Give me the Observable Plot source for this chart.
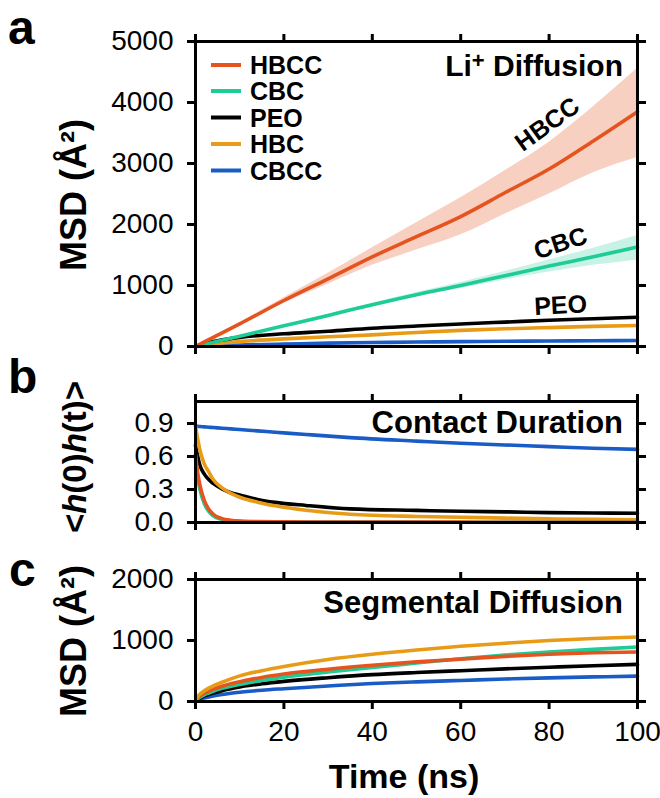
<!DOCTYPE html>
<html><head><meta charset="utf-8">
<script src="https://cdn.jsdelivr.net/npm/d3@7"></script>
<script src="https://cdn.jsdelivr.net/npm/@observablehq/plot@0.6"></script>
<style>
html,body{margin:0;padding:0;background:#fff;}
#wrap{position:relative;width:660px;height:798px;overflow:hidden;background:#fff;}
</style></head><body><div id="wrap"></div>
<script>
const FONT = '"Liberation Sans", Arial, Helvetica, sans-serif';
const seriesNames = ["HBCC", "CBC", "PEO", "HBC", "CBCC"];
const seriesColors = ["#E5531E", "#1ECC96", "#000000", "#E89B17", "#1A5CC6"];
const xTicks = [0, 20, 40, 60, 80, 100];

// Panel a: Li+ diffusion MSD (Å²)
const tA = [0, 2, 5, 10, 20, 30, 40, 50, 60, 70, 80, 90, 100];
const aHBCC = [0, 75, 185, 370, 754, 1110, 1470, 1800, 2130, 2520, 2910, 3370, 3850];
const aHBCCupper = [0, 78, 195, 390, 800, 1200, 1620, 2030, 2440, 2880, 3350, 3930, 4560];
const aHBCClower = [0, 72, 175, 350, 710, 1020, 1330, 1580, 1830, 2170, 2500, 2850, 3100];
const aCBC = [0, 34, 85, 170, 340, 510, 685, 850, 1000, 1160, 1320, 1470, 1630];
const aCBCupper = [0, 35, 87, 175, 350, 528, 710, 885, 1050, 1230, 1420, 1610, 1820];
const aCBClower = [0, 33, 83, 165, 330, 492, 660, 815, 950, 1090, 1220, 1330, 1420];
const aPEO = [0, 50, 95, 150, 208, 250, 300, 335, 370, 400, 430, 455, 480];
const aHBC = [0, 25, 50, 80, 125, 160, 190, 230, 265, 290, 310, 330, 345];
const aCBCC = [0, 8, 15, 25, 40, 55, 65, 73, 80, 85, 90, 94, 98];
const yTicksA = [0, 1000, 2000, 3000, 4000, 5000];

// Panel b: contact duration <h(0)h(t)>
const tB = [0, 0.5, 1, 2, 3, 4, 6, 8, 10, 14, 18, 25, 35, 50, 60, 70, 80, 90, 100];
const bHBCC = [0.62, 0.45, 0.34, 0.20, 0.12, 0.075, 0.035, 0.02, 0.013, 0.008, 0.006, 0.005, 0.004, 0.003, 0.003, 0.002, 0.002, 0.002, 0.002];
const bCBC = [0.58, 0.41, 0.30, 0.17, 0.10, 0.06, 0.028, 0.015, 0.010, 0.006, 0.005, 0.004, 0.003, 0.003, 0.002, 0.002, 0.002, 0.002, 0.002];
const bPEO = [0.70, 0.60, 0.52, 0.44, 0.39, 0.355, 0.305, 0.27, 0.25, 0.21, 0.183, 0.155, 0.124, 0.11, 0.102, 0.097, 0.09, 0.086, 0.084];
const bHBC = [0.875, 0.76, 0.66, 0.53, 0.46, 0.39, 0.315, 0.265, 0.23, 0.185, 0.152, 0.112, 0.075, 0.055, 0.048, 0.04, 0.033, 0.028, 0.024];
const bCBCC = [0.875, 0.874, 0.872, 0.869, 0.866, 0.863, 0.857, 0.851, 0.845, 0.833, 0.821, 0.80, 0.772, 0.74, 0.72, 0.705, 0.69, 0.675, 0.665];
const yTicksB = [0, 0.3, 0.6, 0.9];

// Panel c: segmental diffusion MSD (Å²)
const tC = [0, 0.5, 1, 2, 3, 4, 6, 8, 10, 15, 20, 30, 40, 50, 60, 70, 80, 90, 100];
const cHBCC = [0, 60, 90, 135, 170, 200, 250, 290, 325, 395, 450, 530, 595, 650, 695, 740, 775, 798, 812];
const cCBC = [0, 45, 70, 110, 140, 168, 215, 250, 280, 345, 400, 485, 560, 630, 700, 760, 812, 855, 893];
const cPEO = [0, 35, 55, 90, 115, 138, 178, 210, 238, 290, 330, 390, 440, 475, 505, 535, 562, 587, 608];
const cHBC = [0, 80, 120, 175, 220, 255, 315, 370, 420, 505, 575, 690, 775, 845, 905, 955, 1000, 1032, 1057];
const cCBCC = [0, 25, 38, 58, 75, 90, 115, 135, 152, 185, 210, 255, 295, 322, 345, 368, 388, 403, 416];
const yTicksC = [0, 1000, 2000];

const inPlotLabels = [
  {name: "HBCC", t: 79.6, v: 3640, angle: -36},
  {name: "CBC", t: 82.6, v: 1690, angle: -18},
  {name: "PEO", t: 82.6, v: 672, angle: -3}
];

function rows(t, vals, name) { return t.map((x, i) => ({t: x, v: vals[i], s: name})); }
function bandRows(t, lo, hi) { return t.map((x, i) => ({t: x, lo: lo[i], hi: hi[i]})); }
const colorOf = Object.fromEntries(seriesNames.map((n, i) => [n, seriesColors[i]]));

function lineMarks(order, dataMap) {
  return order.map(n => Plot.line(rows(dataMap.t, dataMap[n], n), {
    x: "t", y: "v", stroke: colorOf[n], strokeWidth: 3.6, curve: "monotone-x"
  }));
}

const wrap = document.getElementById("wrap");
function panel({top, height, mt, mb, yDomain, yTicks, yFmt, showX, marks}) {
  const p = Plot.plot({
    width: 660, height, marginLeft: 195, marginRight: 23, marginTop: mt, marginBottom: mb,
    x: {domain: [0, 100]}, y: {domain: yDomain},
    style: {fontFamily: FONT, fontSize: "28px", color: "#000", background: "transparent", overflow: "visible"},
    marks: [
      ...marks,
      Plot.axisY({ticks: yTicks, tickSize: 8, tickPadding: 14, tickFormat: yFmt, label: null, strokeWidth: 3, fontSize: 28}),
      Plot.axisY({anchor: "right", ticks: yTicks, tickSize: 8, tickFormat: () => "", label: null, strokeWidth: 3}),
      Plot.axisX({anchor: "top", ticks: xTicks, tickSize: 8, tickFormat: () => "", label: null, strokeWidth: 3}),
      Plot.axisX({anchor: "bottom", ticks: xTicks, tickSize: 8, tickPadding: 12, tickFormat: showX ? (d => String(d)) : (() => ""), label: null, strokeWidth: 3, fontSize: 28}),
      Plot.frame({stroke: "#000", strokeWidth: 3})
    ]
  });
  p.style.position = "absolute"; p.style.top = top + "px"; p.style.left = "0px";
  wrap.appendChild(p);
}

// Panel a
const dA = {t: tA, HBCC: aHBCC, CBC: aCBC, PEO: aPEO, HBC: aHBC, CBCC: aCBCC};
panel({
  top: 0, height: 360, mt: 41, mb: 14, yDomain: [0, 5000], yTicks: yTicksA, yFmt: d => String(d), showX: false,
  marks: [
    Plot.areaY(bandRows(tA, aHBCClower, aHBCCupper), {x: "t", y1: "lo", y2: "hi", fill: colorOf.HBCC, fillOpacity: 0.27, curve: "monotone-x"}),
    Plot.areaY(bandRows(tA, aCBClower, aCBCupper), {x: "t", y1: "lo", y2: "hi", fill: colorOf.CBC, fillOpacity: 0.25, curve: "monotone-x"}),
    ...lineMarks(["CBCC", "HBC", "PEO", "CBC", "HBCC"], dA),
    Plot.text(inPlotLabels, {x: "t", y: "v", text: "name", rotate: "angle", fontSize: 25, fontWeight: "bold", fill: "#000"})
  ]
});

// Panel b
const dB = {t: tB, HBCC: bHBCC, CBC: bCBC, PEO: bPEO, HBC: bHBC, CBCC: bCBCC};
panel({
  top: 360, height: 180, mt: 41, mb: 18, yDomain: [0, 1.1], yTicks: yTicksB, yFmt: d3.format(".1f"), showX: false,
  marks: lineMarks(["CBCC", "PEO", "HBC", "CBC", "HBCC"], dB)
});

// Panel c
const dC = {t: tC, HBCC: cHBCC, CBC: cCBC, PEO: cPEO, HBC: cHBC, CBCC: cCBCC};
panel({
  top: 540, height: 258, mt: 39, mb: 97, yDomain: [0, 2000], yTicks: yTicksC, yFmt: d => String(d), showX: true,
  marks: lineMarks(["CBCC", "PEO", "CBC", "HBCC", "HBC"], dC)
});

// Overlay texts
const NS = "http://www.w3.org/2000/svg";
const ov = document.createElementNS(NS, "svg");
ov.setAttribute("width", 660); ov.setAttribute("height", 798);
ov.style.position = "absolute"; ov.style.left = "0px"; ov.style.top = "0px";
ov.style.fontFamily = FONT;
wrap.appendChild(ov);
function txt(str, attrs, parent = ov) {
  const el = document.createElementNS(NS, "text");
  for (const k in attrs) el.setAttribute(k, attrs[k]);
  if (str != null) el.textContent = str;
  parent.appendChild(el); return el;
}
function tspan(el, str, attrs = {}) {
  const s = document.createElementNS(NS, "tspan");
  for (const k in attrs) s.setAttribute(k, attrs[k]);
  s.textContent = str; el.appendChild(s); return s;
}
// panel letters
txt("a", {x: 8, y: 44, "font-size": 48, "font-weight": "bold"});
txt("b", {x: 8, y: 393, "font-size": 48, "font-weight": "bold"});
txt("c", {x: 9, y: 586, "font-size": 48, "font-weight": "bold"});
// y titles
txt("MSD (Å²)", {transform: "translate(86,195) rotate(-90)", "text-anchor": "middle", "font-size": 36, "font-weight": "bold"});
const hb = txt(null, {transform: "translate(86,457) rotate(-90)", "text-anchor": "middle", "font-size": 33, "font-weight": "bold"});
tspan(hb, "<"); tspan(hb, "h", {"font-style": "italic"}); tspan(hb, "(0)"); tspan(hb, "h", {"font-style": "italic"}); tspan(hb, "(t)>");
txt("MSD (Å²)", {transform: "translate(86,641) rotate(-90)", "text-anchor": "middle", "font-size": 36, "font-weight": "bold"});
// x title
txt("Time (ns)", {x: 404, y: 788, "text-anchor": "middle", "font-size": 34, "font-weight": "bold"});
// panel titles
const li = txt(null, {x: 623, y: 76, "text-anchor": "end", "font-size": 30, "font-weight": "bold"});
tspan(li, "Li"); tspan(li, "+", {"font-size": 22, dy: -8}); tspan(li, " Diffusion", {dy: 8});
txt("Contact Duration", {x: 623, y: 433, "text-anchor": "end", "font-size": 31, "font-weight": "bold"});
txt("Segmental Diffusion", {x: 623, y: 613, "text-anchor": "end", "font-size": 31, "font-weight": "bold"});
// legend
const legendY = [65, 91, 117.5, 144, 170.5];
seriesNames.forEach((n, i) => {
  const l = document.createElementNS(NS, "line");
  l.setAttribute("x1", 211); l.setAttribute("x2", 241);
  l.setAttribute("y1", legendY[i]); l.setAttribute("y2", legendY[i]);
  l.setAttribute("stroke", seriesColors[i]); l.setAttribute("stroke-width", 4);
  ov.appendChild(l);
  txt(n, {x: 250, y: legendY[i] + 9, "font-size": 25, "font-weight": "bold"});
});
</script></body></html>
